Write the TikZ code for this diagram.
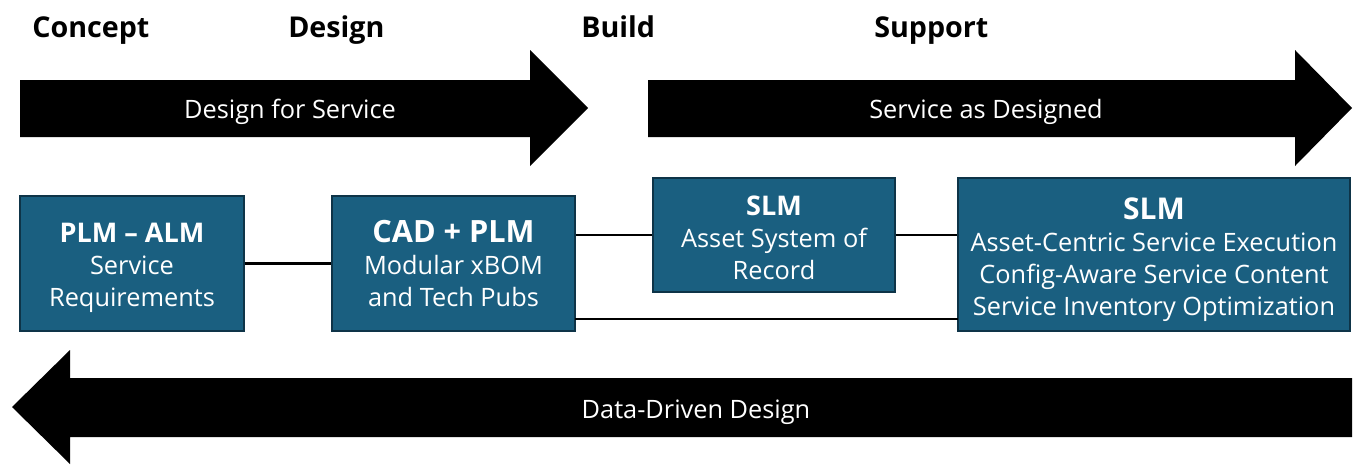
\documentclass[tikz,border=0pt]{standalone}
\usepackage{fontspec}
\setmainfont{Open Sans}
\definecolor{boxfill}{RGB}{26,95,128}
\definecolor{boxline}{RGB}{14,52,72}
\begin{document}
\begin{tikzpicture}[x=0.75pt,y=-0.75pt,
  box/.style={draw=boxline, line width=1.2pt, fill=boxfill, text=white, align=center, inner sep=0pt, font=\fontsize{19}{24}\selectfont},
  hdr/.style={font=\fontsize{21.5}{24}\selectfont\bfseries, anchor=base west, inner sep=0pt},
  lbl/.style={text=white, font=\fontsize{19}{24}\selectfont, inner sep=0pt, anchor=base},
  bigarrow/.style={fill=black},
  conn/.style={line width=1.6pt}]
\useasboundingbox (0,0) rectangle (1356,464);
% headers
\node[hdr] (hc) at (32,37) {Concept};
\node[hdr] (hd) at (288,37) {Design};
\node[hdr] (hb) at (581,37) {Build};
\node[hdr] (hs) at (874,37) {Support};
% big arrows
\fill[bigarrow] (20,80) -- (530,80) -- (530,50) -- (588,108) -- (530,166) -- (530,137) -- (20,137) -- cycle;
\fill[bigarrow] (648,80) -- (1295,80) -- (1295,50) -- (1352,108) -- (1295,166) -- (1295,137) -- (648,137) -- cycle;
\fill[bigarrow] (1352,378) -- (70,378) -- (70,350) -- (12,407) -- (70,464) -- (70,437) -- (1352,437) -- cycle;
\node[lbl] (a1) at (290,118) {Design for Service};
\node[lbl] (a2) at (986,118) {Service as Designed};
\node[lbl] (a3) at (696,418) {Data-Driven Design};
% boxes
\node[box, minimum width=224*0.75pt, minimum height=135*0.75pt] (b1) at (132,263.5)
  {{\fontsize{20.3}{24}\selectfont\bfseries\rule{0pt}{20.6pt}PLM – ALM}\\Service\\Requirements};
\node[box, minimum width=243*0.75pt, minimum height=135*0.75pt] (b2) at (453.5,263.5)
  {{\fontsize{23}{26}\selectfont\bfseries CAD + PLM}\\Modular xBOM\\and Tech Pubs};
\node[box, minimum width=242*0.75pt, minimum height=114*0.75pt] (b3) at (774,235)
  {{\fontsize{20.3}{24}\selectfont\bfseries\rule{0pt}{19.3pt}SLM}\\Asset System of\\Record};
\node[box, minimum width=392*0.75pt, minimum height=153*0.75pt] (b4) at (1154,254.5)
  {{\fontsize{22.5}{26}\selectfont\bfseries\rule{0pt}{23.5pt}SLM}\\Asset-Centric Service Execution\\Config-Aware Service Content\\Service Inventory Optimization};
% connectors
\coordinate (c2) at (575,319);
\coordinate (c4) at (958,319);
\draw[conn] (b1.east) -- (b2.west);
\draw[conn] (b3.west) -- (b3.west -| b2.east);
\draw[conn] (b3.east) -- (b3.east -| b4.west);
\draw[conn] (c2) -- (c4);
\end{tikzpicture}
\end{document}
